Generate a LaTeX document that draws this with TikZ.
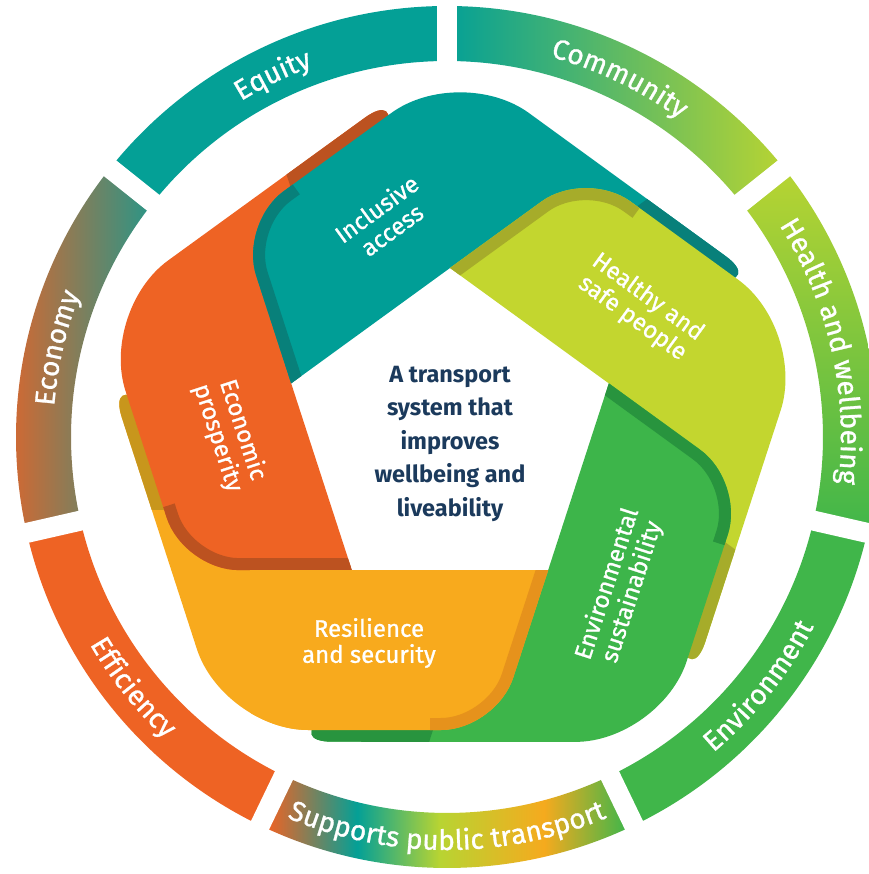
\documentclass[tikz,border=0pt]{standalone}
\usepackage{fontspec}
\setmainfont{Fira Sans}
\newfontfamily\medfont{Fira Sans}[FakeBold=1.0]
\usetikzlibrary{calc,decorations.text}

% blade colours
\definecolor{cTeal}{RGB}{0,158,150}
\definecolor{cTealD}{RGB}{8,128,122}
\definecolor{cOrange}{RGB}{238,99,36}
\definecolor{cOrangeD}{RGB}{188,82,32}
\definecolor{cAmber}{RGB}{248,170,29}
\definecolor{cAmberD}{RGB}{230,146,28}
\definecolor{cAmberT}{RGB}{200,150,28}
\definecolor{cLime}{RGB}{195,214,47}
\definecolor{cLimeD}{RGB}{166,172,42}
\definecolor{cGreen}{RGB}{61,181,74}
\definecolor{cGreenD}{RGB}{40,148,62}
\definecolor{cNavy}{RGB}{27,58,92}
% ring colours
\definecolor{rTeal}{RGB}{4,160,150}
\definecolor{rLime}{RGB}{184,212,50}
\definecolor{rGreen}{RGB}{64,182,74}
\definecolor{rOrange}{RGB}{238,99,36}
\definecolor{rOrangeB}{RGB}{226,100,42}
\definecolor{rTealG}{RGB}{40,150,136}
\definecolor{rAmber}{RGB}{245,170,30}

\pgfdeclarehorizontalshading{supportsh}{100bp}{color(0bp)=(rOrange); color(26bp)=(rOrange); color(38bp)=(rTeal); color(49bp)=(rLime); color(63bp)=(rAmber); color(74bp)=(rGreen); color(100bp)=(rGreen)}

% one blade of the pinwheel (the bottom one); the others are rotations of it
\newcommand\bladeoutline{(98.2,-135.1) -- (-98.2,-135.1) -- (-306.9,31.9) .. controls (-326.2,47.4) and (-335.7,40.7) .. (-328.1,17.2) -- (-253.1,-214.1) .. controls (-238.7,-258.6) and (-188.7,-295) .. (-141.9,-295) -- (-8.8,-295) .. controls (21.45,-295) and (53.85,-271.5) .. (63.2,-242.7) -- cycle}

\newcommand\drawblade[4]{%
  \begin{scope}[rotate=#1]
    \fill[#2] \bladeoutline;
    \begin{scope}
      \clip \bladeoutline;
      \fill[#4] (-460,-75) rectangle (-120,220);
      \draw[#3, line width=24pt] (98.2,-135.1) -- (63.2,-242.7) .. controls (53.85,-271.5) and (21.45,-295) .. (-8.8,-295) -- (-20,-295);
    \end{scope}
  \end{scope}}

\newcommand\ringseg[3]{%
  \path[#3] ($(O)+(#1:376)$) arc[start angle=#1, end angle=#2, radius=376]
     -- ($(O)+(#2:431)$) arc[start angle=#2, end angle=#1, radius=431] -- cycle;}

\newcommand\ringfnt{\medfont\fontsize{28}{28}\selectfont}
\newcommand\ringtext[4]{%
  \path[decorate, decoration={text along path, text align=center, text color=white,
     text={|\ringfnt|#4}}] ($(O)+(#1:#3)$) arc[start angle=#1, end angle=#2, radius=#3];}

\tikzset{
  ctext/.style={align=center, text=cNavy, font=\bfseries\fontsize{23.5}{33.5}\selectfont},
  blabel/.style={align=center, text=white, font=\medfont\fontsize{24}{26}\selectfont},
}

\begin{document}
\begin{tikzpicture}[x=1pt, y=1pt]
  \useasboundingbox (-450,-439) rectangle (418,435);
  \fill[white] (-450,-439) rectangle (418,435);
  \coordinate (O) at (-3,-2);

  % outer ring
  \ringseg{141.429}{90}{fill=rTeal}
  \ringseg{90}{38.571}{shade, left color=rTeal, right color=rLime}
  \ringseg{38.571}{-12.857}{shade, top color=rLime, bottom color=rGreen}
  \ringseg{-12.857}{-64.286}{fill=rGreen}
  \ringseg{-64.286}{-115.714}{shade, shading=supportsh}
  \ringseg{-115.714}{-167.143}{fill=rOrange}
  \ringseg{192.857}{141.429}{shade, left color=rOrangeB, right color=rTealG}
  \foreach \g in {90,38.571,-12.857,-64.286,-115.714,-167.143,141.429}
    \draw[white, line width=20pt] ($(O)+(\g:360)$) -- ($(O)+(\g:450)$);

  \ringtext{141.429}{90}{394}{Equity}
  \ringtext{90}{38.571}{394}{Community}
  \ringtext{38.571}{-12.857}{394}{Health and wellbeing}
  \ringtext{-64.286}{-12.857}{413}{Environment}
  \ringtext{-115.714}{-64.286}{413}{Supports public transport}
  \ringtext{-167.143}{-115.714}{413}{Efficiency}
  \ringtext{192.857}{141.429}{394}{Economy}

  % pinwheel blades
  \drawblade{0}{cAmber}{cAmberD}{cAmberT}
  \drawblade{-72}{cOrange}{cOrangeD}{cOrangeD}
  \drawblade{-144}{cTeal}{cTealD}{cTealD}
  \drawblade{144}{cLime}{cLimeD}{cLimeD}
  \drawblade{72}{cGreen}{cGreenD}{cGreenD}
  \begin{scope}
    \clip (-200,-135.1) rectangle (200,-420);
    \drawblade{0}{cAmber}{cAmberD}{cAmberT}
  \end{scope}

  % labels
  \node[ctext] (centre) at (0,-8.5) {A transport\\system that\\improves\\wellbeing and\\liveability};
  \node[blabel, rotate=36] (incl) at (-66,216) {Inclusive\\access};
  \node[blabel, rotate=-36] (heal) at (190,127) {Healthy and\\safe people};
  \node[blabel, rotate=72] (envs) at (170,-153) {Environmental\\sustainability};
  \node[blabel] (resi) at (-81,-208) {Resilience\\and security};
  \node[blabel, rotate=-72] (econp) at (-220,1) {Economic\\prosperity};
\end{tikzpicture}
\end{document}
